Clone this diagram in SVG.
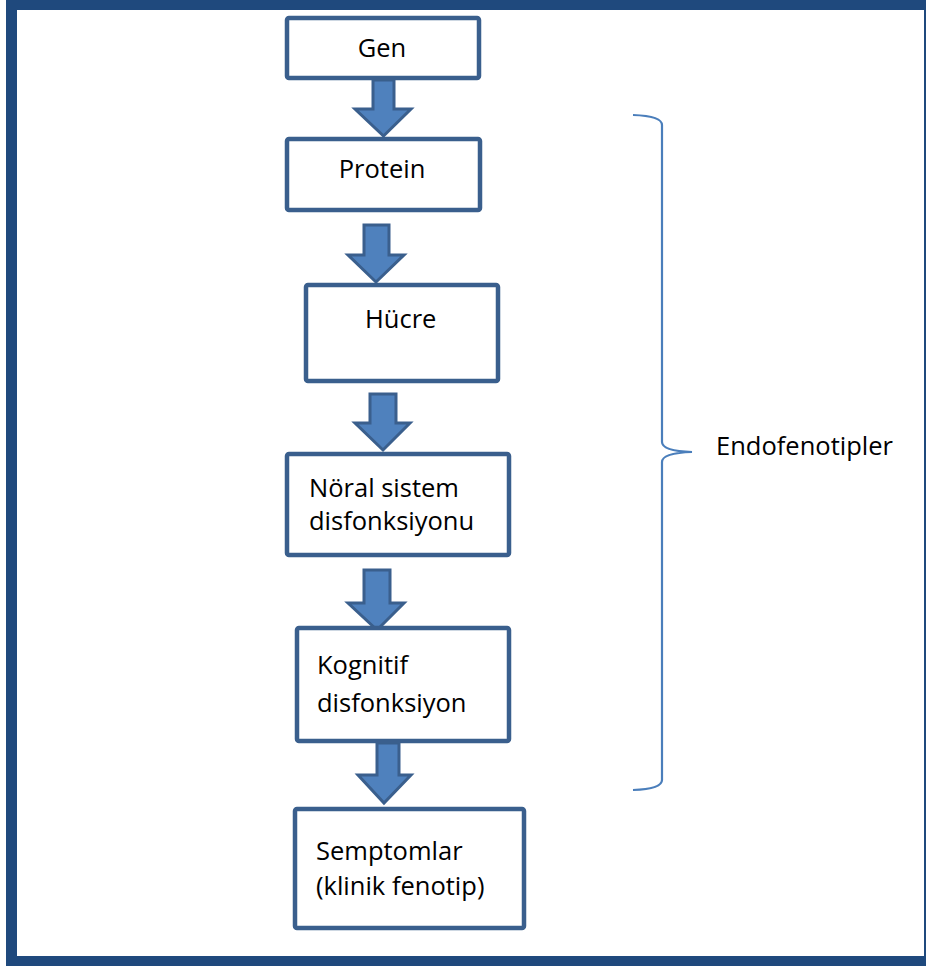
<svg xmlns="http://www.w3.org/2000/svg" width="926" height="966" viewBox="0 0 926 966">
<style>
.box{fill:#fff;stroke:#3A5F8D;stroke-width:4.5;stroke-linejoin:round}
.arr{fill:#4F81BD;stroke:#3A5F8D;stroke-width:3;stroke-linejoin:miter}
.t{font-family:"Open Sans","Noto Sans",sans-serif;font-size:25.5px;fill:#000}
.brace{fill:none;stroke:#4A7EBB;stroke-width:2.2}
</style>
<rect x="0" y="0" width="926" height="966" fill="#fff"/>
<g id="frame" fill="#1F497D">
<rect x="6" y="0" width="920" height="10"/>
<rect x="6" y="0" width="11" height="966"/>
<rect x="924" y="0" width="2" height="966"/>
<rect x="6" y="956" width="920" height="10"/>
</g>
<g id="connectors">
<path class="arr" d="M373,80 L394,80 L394,109 L411,109 L383.5,136 L355,109 L373,109 Z"/>
<path class="arr" d="M364,225 L389,225 L389,255 L404,255 L376,282 L348,255 L364,255 Z"/>
<path class="arr" d="M370,394 L396,394 L396,423 L410,423 L383,450 L355,423 L370,423 Z"/>
<path class="arr" d="M364,570 L390,570 L390,603 L404,603 L377,630 L348,603 L364,603 Z"/>
<path class="arr" d="M377,743 L399,743 L399,775 L411,775 L384,803 L358,775 L377,775 Z"/>
<path class="brace" d="M633,115 Q662,116 662,125 L662,442 Q662,451 692,452 Q662,453 662,462 L662,780 Q662,789 633,790"/>
</g>
<g id="gen"><rect class="box" x="287" y="18" width="192" height="60" rx="2"/><text class="t" x="382" y="57" text-anchor="middle">Gen</text></g>
<g id="protein"><rect class="box" x="287" y="139" width="193" height="71" rx="2"/><text class="t" x="382" y="178" text-anchor="middle">Protein</text></g>
<g id="hucre"><rect class="box" x="306" y="285" width="192" height="96" rx="2"/><text class="t" x="365" y="328">Hücre</text></g>
<g id="noral"><rect class="box" x="287" y="454" width="222" height="101" rx="2"/><text class="t" x="309" y="497">Nöral sistem</text><text class="t" x="309" y="530">disfonksiyonu</text></g>
<g id="kognitif"><rect class="box" x="297" y="628" width="212" height="113" rx="2"/><text class="t" x="317" y="674">Kognitif</text><text class="t" x="317" y="712">disfonksiyon</text></g>
<g id="semptomlar"><rect class="box" x="295" y="809" width="229" height="119" rx="2"/><text class="t" x="316" y="860">Semptomlar</text><text class="t" x="316" y="895">(klinik fenotip)</text></g>
<g id="endofenotipler"><text class="t" x="716" y="455">Endofenotipler</text></g>
</svg>
